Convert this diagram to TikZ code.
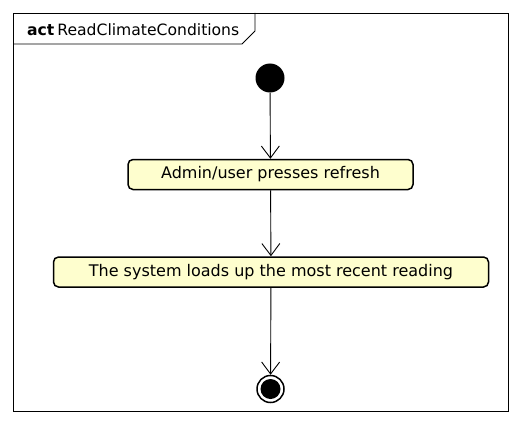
\documentclass[tikz,border=0pt]{standalone}
\usepackage{fontspec}
\setmainfont{DejaVu Sans}
\usetikzlibrary{arrows.meta}
\definecolor{actfill}{HTML}{FEFECE}
\tikzset{
  actionbox/.style={draw=black, line width=1.5pt, fill=actfill, rounded corners=5pt, inner sep=0pt, font=\fontsize{16}{19}\selectfont},
  flow/.style={draw=black, line width=0.9pt, -{Straight Barb[length=12pt,width=18pt,line width=0.9pt]}},
}
\begin{document}
\begin{tikzpicture}[x=1pt,y=-1pt]
\useasboundingbox (0,0) rectangle (521,425);
% frame
\draw[line width=0.9pt] (13,13) rectangle (508,411);
\draw[line width=0.9pt] (13,44) -- (242,44) -- (255,31) -- (255,13);
\node[anchor=base west, inner sep=0pt, font=\fontsize{15.6}{18}\selectfont] (title) at (27,36) {\textbf{act}\hspace{3pt}ReadClimateConditions};
% initial
\node[circle, fill=black, minimum size=29pt, inner sep=0pt] (start) at (270,78) {};
% actions
\node[actionbox, minimum width=285pt, minimum height=30pt] (a1) at (270.5,174.5) {Admin/user presses refresh};
\node[actionbox, minimum width=435pt, minimum height=30pt] (a2) at (271,272) {The system loads up the most recent reading};
% final
\node[circle, draw=black, line width=1.5pt, minimum size=27pt, inner sep=0pt] (end) at (270.5,389) {};
\node[circle, fill=black, minimum size=20pt, inner sep=0pt] (endin) at (end.center) {};
% flows
\draw[flow] (start) -- (a1);
\draw[flow] (a1) -- (a2);
\draw[flow] (a2) -- (end);
\end{tikzpicture}
\end{document}
